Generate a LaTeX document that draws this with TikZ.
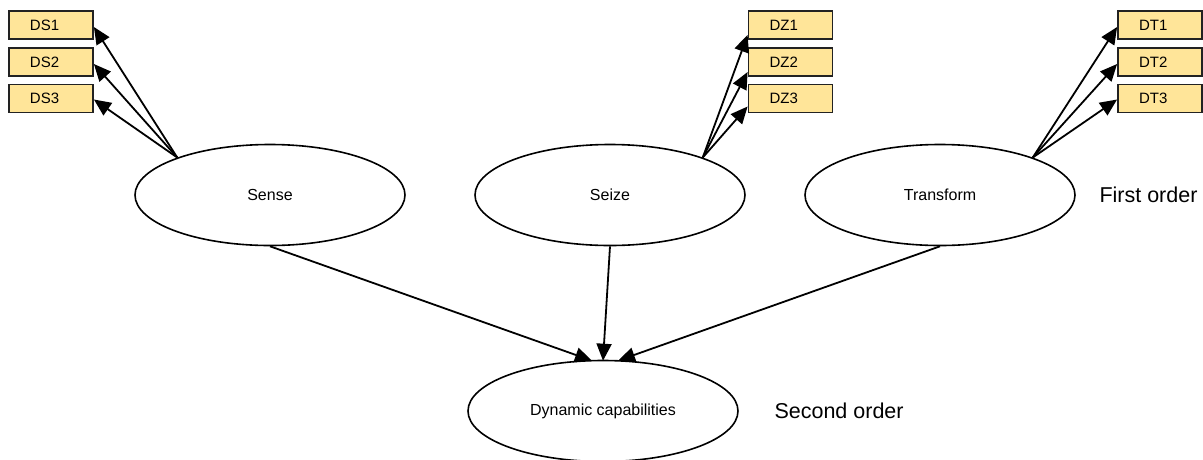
\documentclass[tikz,border=0pt]{standalone}
\usepackage{fontspec}
\setmainfont{Liberation Sans}
\usetikzlibrary{arrows.meta,shapes.geometric}
\definecolor{itemfill}{HTML}{FFE599}
\definecolor{itemline}{HTML}{222222}
\tikzset{
  itembox/.style={draw=itemline, line width=1.8pt, fill=itemfill, rectangle,
    inner xsep=21pt, inner ysep=0pt, text width=42pt, align=left,
    minimum height=28pt, font=\fontsize{15pt}{17pt}\selectfont},
  construct/.style={draw, line width=1.6pt, ellipse, minimum width=270pt,
    minimum height=101pt, inner sep=0pt, font=\fontsize{16pt}{18pt}\selectfont},
  link/.style={line width=1.8pt, -{Triangle[length=17pt,width=15pt]}},
  levellabel/.style={anchor=west, font=\fontsize{21.5pt}{24pt}\selectfont}
}
\begin{document}
\begin{tikzpicture}[x=1pt,y=-1pt]
\useasboundingbox (0,0) rectangle (1203,459);

% first-order constructs
\node[construct] (sense) at (270,195) {Sense};
\node[construct] (seize) at (610,195) {Seize};
\node[construct] (transform) at (940,195) {Transform};

% second-order construct
\node[construct] (dc) at (603,411) {Dynamic capabilities};

% indicators
\node[itembox] (ds1) at (51,25) {DS1};
\node[itembox] (ds2) at (51,62) {DS2};
\node[itembox] (ds3) at (51,98.5) {DS3};
\node[itembox] (dz1) at (790.5,25) {DZ1};
\node[itembox] (dz2) at (790.5,62) {DZ2};
\node[itembox] (dz3) at (790.5,98.5) {DZ3};
\node[itembox] (dt1) at (1160,25) {DT1};
\node[itembox] (dt2) at (1160,62) {DT2};
\node[itembox] (dt3) at (1160,98.5) {DT3};

% level labels
\node[levellabel] (first) at (1096,195) {First order};
\node[levellabel] (second) at (771,411) {Second order};

% indicator links
\draw[link] (sense.158) -- ([yshift=-2pt]ds1.east);
\draw[link] (sense.158) -- ([yshift=-2pt]ds2.east);
\draw[link] (sense.158) -- ([yshift=-1pt]ds3.east);
\draw[link] (seize.22) -- ([yshift=-10pt]dz1.west);
\draw[link] (seize.22) -- ([yshift=-10pt]dz2.west);
\draw[link] (seize.22) -- ([yshift=-8pt]dz3.west);
\draw[link] (transform.22) -- ([yshift=-2pt]dt1.west);
\draw[link] (transform.22) -- ([yshift=-2pt]dt2.west);
\draw[link] (transform.22) -- ([yshift=-1pt]dt3.west);

% structural links
\draw[link] (sense.south) -- ([xshift=-11pt,yshift=-1pt]dc.north);
\draw[link] (seize.south) -- ([yshift=-1pt]dc.north);
\draw[link] (transform.south) -- ([xshift=15pt,yshift=-1pt]dc.north);
\end{tikzpicture}
\end{document}
